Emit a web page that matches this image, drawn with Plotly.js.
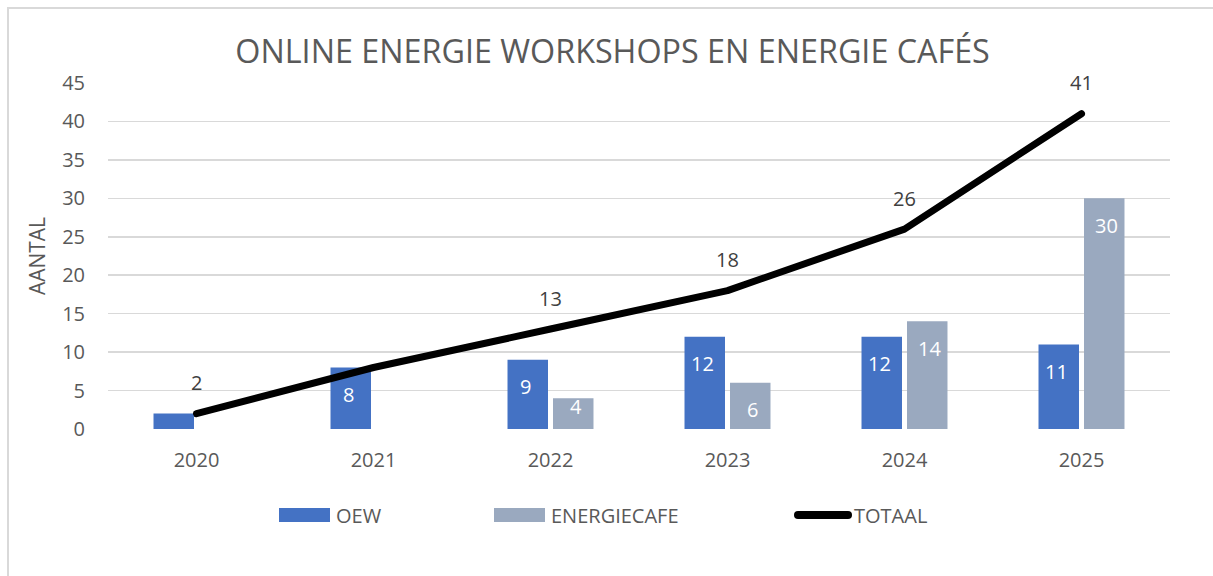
<!DOCTYPE html>
<html>
<head>
<meta charset="utf-8">
<script src="https://cdn.plot.ly/plotly-3.0.1.min.js"></script>
<style>
  html, body { margin: 0; padding: 0; background: #fff; }
  #wrap { position: relative; width: 1213px; height: 576px; overflow: hidden; }
  #chart { width: 1213px; height: 576px; }
  #frame { position: absolute; left: 7px; top: 7px; right: -5px; bottom: -5px;
           border-left: 2px solid #d9d9d9; border-top: 2px solid #d9d9d9; pointer-events: none; }
  .scatterlayer .js-line, .legend .js-line { stroke-linecap: round; stroke-linejoin: round; }
</style>
</head>
<body>
<div id="wrap"><div id="chart"></div><div id="frame"></div></div>
<script>
// ---- data ----
const years = ['2020', '2021', '2022', '2023', '2024', '2025'];
const oew = [2, 8, 9, 12, 12, 11];
const energiecafe = [null, null, 4, 6, 14, 30];
const totaal = [2, 8, 13, 18, 26, 41];
// labels shown in the original (null = not shown)
const oewLabels = [null, '8', '9', '12', '12', '11'];
const cafeLabels = [null, null, '4', '6', '14', '30'];
const totaalLabels = ['2', null, '13', '18', '26', '41'];
const yTicks = [0, 5, 10, 15, 20, 25, 30, 35, 40, 45];

const FONT = 'Open Sans, Noto Sans, sans-serif';
const GREY = '#595959';
const BLUE = '#4472c4';
const CAFE = '#9aa9bf';

const traces = [
  { type: 'bar', name: 'OEW', x: years, y: oew, marker: { color: BLUE },
    hoverinfo: 'skip', legendwidth: 152 },
  { type: 'bar', name: 'ENERGIECAFE', x: years, y: energiecafe, marker: { color: CAFE },
    hoverinfo: 'skip', legendwidth: 240 },
  { type: 'scatter', mode: 'lines', name: 'TOTAAL', x: years, y: totaal,
    line: { color: '#000000', width: 7 }, hoverinfo: 'skip', legendwidth: 80 }
];

// label annotations derived from data
const annotations = [];
years.forEach((yr, i) => {
  if (oewLabels[i] !== null) {
    annotations.push({ x: i, xshift: -25, y: oew[i], yref: 'y', xref: 'x',
      text: oewLabels[i], showarrow: false, yshift: oew[i] >= 5 ? -27 : -8,
      font: { family: FONT, size: 20, color: '#ffffff' } });
  }
  if (cafeLabels[i] !== null) {
    annotations.push({ x: i, xshift: 25, y: energiecafe[i], yref: 'y', xref: 'x',
      text: cafeLabels[i], showarrow: false, yshift: energiecafe[i] >= 5 ? -27 : -8,
      font: { family: FONT, size: 20, color: '#ffffff' } });
  }
  if (totaalLabels[i] !== null) {
    annotations.push({ x: i, y: totaal[i], yref: 'y', xref: 'x',
      text: totaalLabels[i], showarrow: false, yshift: 31,
      font: { family: FONT, size: 20, color: '#404040' } });
  }
});

const layout = {
  width: 1213, height: 576,
  margin: { l: 108, r: 43, t: 82.5, b: 146.5 },
  paper_bgcolor: '#ffffff', plot_bgcolor: '#ffffff',
  title: { text: 'ONLINE ENERGIE WORKSHOPS EN ENERGIE CAFÉS',
    font: { family: FONT, size: 32.3, color: GREY },
    x: 0.505, xref: 'container', xanchor: 'center', y: 0.911, yref: 'container', yanchor: 'middle' },
  barmode: 'group', bargap: 0.486, bargroupgap: 0.11,
  xaxis: { type: 'category', showgrid: false, zeroline: false, showline: false,
    ticks: '', tickfont: { family: FONT, size: 20, color: GREY }, ticklabelstandoff: 17,
    fixedrange: true },
  yaxis: { range: [0, 45], tickvals: yTicks, ticks: '', showline: false, zeroline: false,
    gridcolor: '#d9d9d9', gridwidth: 1.5,
    tickfont: { family: FONT, size: 20, color: GREY }, ticklabelstandoff: 22,
    title: { text: 'AANTAL', font: { family: FONT, size: 21, color: GREY }, standoff: 10 },
    fixedrange: true },
  showlegend: true,
  legend: { orientation: 'h', x: 278 / 1213, xref: 'container', xanchor: 'left',
    y: 0.106, yref: 'container', yanchor: 'middle',
    font: { family: FONT, size: 20, color: GREY },
    itemwidth: 48, traceorder: 'normal' },
  annotations: annotations
};

Plotly.newPlot('chart', traces, layout, { staticPlot: true, displayModeBar: false }).then(gd => {
  // widen legend swatches to look like the original's rectangles / long line
  gd.querySelectorAll('.legend .traces').forEach(item => {
    const txt = item.querySelector('text.legendtext');
    const tx = parseFloat(txt.getAttribute('x')) || 58;
    item.querySelectorAll('path.legendbar, path.legendundefined').forEach(p => {
      p.setAttribute('transform', '');
      p.setAttribute('d', `M${tx - 57},-7H${tx - 6}V7H${tx - 57}Z`);
    });
    item.querySelectorAll('.legendlines path').forEach(p => {
      p.setAttribute('d', `M${tx - 56},0H${tx - 6}`);
      p.style.strokeWidth = '8px';
    });
  });
});
</script>
</body>
</html>
